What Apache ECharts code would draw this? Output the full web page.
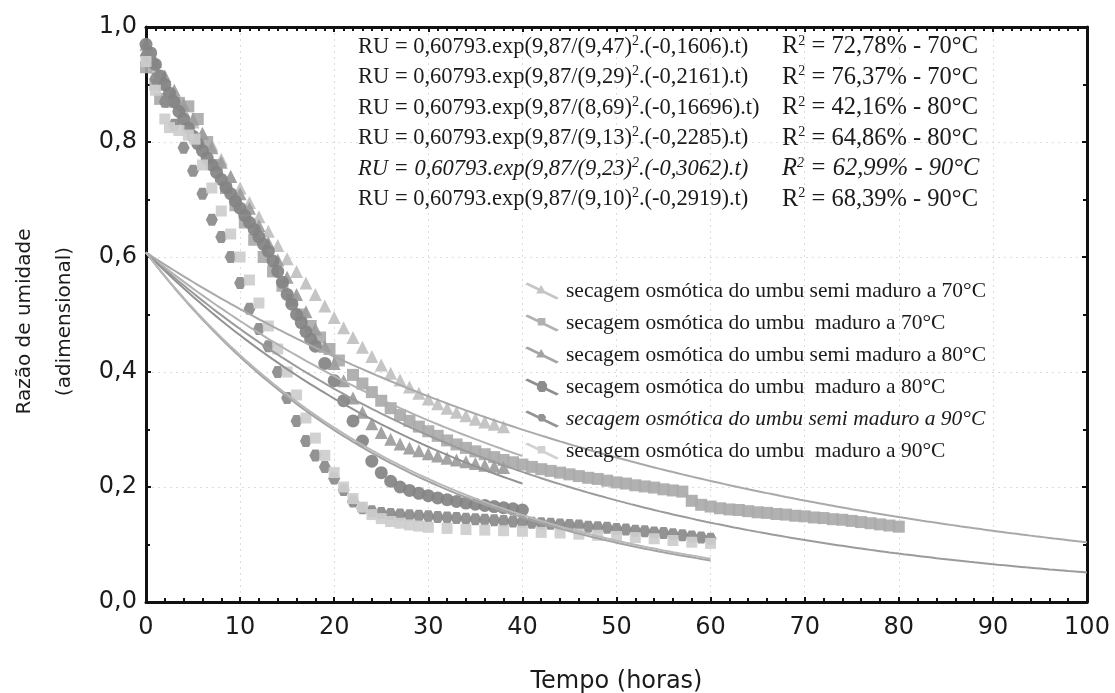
<!DOCTYPE html>
<html>
<head>
<meta charset="utf-8">
<script src="https://cdn.jsdelivr.net/npm/echarts@6/dist/echarts.min.js"></script>
<style>
  html, body { margin: 0; padding: 0; background: #ffffff; }
  #chart { width: 1115px; height: 693px; }
</style>
</head>
<body>
<div id="chart"></div>
<script>
// Moisture ratio (RU) of osmotically dehydrated umbu, measured points [hours, RU]
const semiMaduro70 = [[0,0.96],[1,0.93],[2,0.9],[3,0.875],[4,0.855],[5,0.835],[6,0.815],[7,0.795],[8,0.77],[9,0.74],[10,0.72],[11,0.695],[12,0.67],[13,0.645],[14,0.62],[15,0.597],[16,0.575],[17,0.555],[18,0.535],[19,0.515],[20,0.495],[21,0.477],[22,0.46],[23,0.443],[24,0.427],[25,0.412],[26,0.398],[27,0.386],[28,0.374],[29,0.363],[30,0.353],[31,0.345],[32,0.337],[33,0.33],[34,0.324],[35,0.318],[36,0.313],[37,0.309],[38,0.305]];
const maduro70 = [[0,0.93],[1,0.9],[1.5,0.875],[2.5,0.87],[3.5,0.868],[4.5,0.862],[5.5,0.84],[6.5,0.8],[7.5,0.76],[8.5,0.72],[9.5,0.69],[10.5,0.66],[11.5,0.63],[12.5,0.6],[13.5,0.575],[14.5,0.55],[15.5,0.525],[16.5,0.5],[17.5,0.48],[18.5,0.46],[19.5,0.44],[20.5,0.42],[22,0.395],[23,0.38],[24,0.365],[25,0.35],[26,0.337],[27,0.325],[28,0.315],[29,0.305],[30,0.297],[31,0.289],[32,0.281],[33,0.274],[34,0.268],[35,0.262],[36,0.257],[37,0.252],[38,0.247],[39,0.243],[40,0.239],[41,0.235],[42,0.231],[43,0.228],[44,0.225],[45,0.222],[46,0.219],[47,0.216],[48,0.214],[49,0.211],[50,0.208],[51,0.206],[52,0.203],[53,0.201],[54,0.199],[55,0.196],[56,0.194],[57,0.192],[58,0.176],[59,0.169],[60,0.166],[61,0.163],[62,0.161],[63,0.16],[64,0.158],[65,0.156],[66,0.155],[67,0.153],[68,0.152],[69,0.15],[70,0.149],[71,0.147],[72,0.146],[73,0.144],[74,0.143],[75,0.141],[76,0.139],[77,0.137],[78,0.135],[79,0.133],[80,0.131]];
const semiMaduro80 = [[0,0.97],[1,0.94],[2,0.915],[3,0.89],[4,0.865],[5,0.84],[6,0.815],[7,0.79],[8,0.765],[9,0.74],[10,0.71],[11,0.685],[12,0.655],[13,0.625],[14,0.595],[15,0.565],[16,0.535],[17,0.505],[18,0.475],[19,0.445],[20,0.415],[21,0.385],[22,0.355],[23,0.33],[24,0.31],[25,0.295],[26,0.283],[27,0.275],[28,0.268],[29,0.263],[30,0.258],[31,0.254],[32,0.25],[33,0.247],[34,0.244],[35,0.241],[36,0.238],[37,0.236],[38,0.234]];
const maduro80 = [[0,0.97],[0.5,0.955],[1,0.935],[1.5,0.915],[2,0.9],[2.5,0.885],[3,0.87],[3.5,0.853],[4,0.84],[4.5,0.824],[5,0.81],[5.5,0.797],[6,0.785],[6.5,0.772],[7,0.76],[7.5,0.747],[8,0.735],[8.5,0.721],[9,0.71],[9.5,0.697],[10,0.685],[10.5,0.672],[11,0.66],[11.5,0.648],[12,0.635],[12.5,0.622],[13,0.61],[13.5,0.593],[14,0.575],[14.5,0.556],[15,0.535],[15.5,0.518],[16,0.5],[16.5,0.486],[17,0.47],[17.5,0.457],[18,0.445],[19,0.415],[20,0.385],[21,0.35],[22,0.315],[23,0.28],[24,0.245],[25,0.225],[26,0.21],[27,0.2],[28,0.194],[29,0.189],[30,0.185],[31,0.181],[32,0.178],[33,0.175],[34,0.172],[35,0.17],[36,0.168],[37,0.166],[38,0.164],[39,0.162],[40,0.16]];
const semiMaduro90 = [[0,0.95],[1,0.91],[2,0.87],[3,0.83],[4,0.79],[5,0.75],[6,0.71],[7,0.665],[8,0.635],[9,0.6],[10,0.555],[11,0.51],[12,0.475],[13,0.445],[14,0.4],[15,0.355],[16,0.315],[17,0.28],[18,0.255],[19,0.235],[20,0.215],[21,0.195],[22,0.175],[23,0.163],[24,0.158],[25,0.155],[26,0.153],[27,0.152],[28,0.151],[29,0.15],[30,0.149],[31,0.148],[32,0.147],[33,0.146],[34,0.145],[35,0.144],[36,0.143],[37,0.142],[38,0.141],[39,0.14],[40,0.139],[41,0.138],[42,0.137],[43,0.136],[44,0.135],[45,0.134],[46,0.133],[47,0.131],[48,0.13],[49,0.129],[50,0.127],[51,0.126],[52,0.124],[53,0.123],[54,0.121],[55,0.12],[56,0.118],[57,0.116],[58,0.114],[59,0.112],[60,0.11]];
const maduro90 = [[0,0.94],[1,0.89],[2,0.84],[2.5,0.825],[3.5,0.82],[4.5,0.812],[5.2,0.805],[6,0.76],[7,0.72],[8,0.68],[9,0.64],[10,0.6],[11,0.56],[12,0.52],[13,0.48],[14,0.44],[15,0.4],[16,0.36],[17,0.32],[18,0.285],[19,0.255],[20,0.225],[21,0.2],[22,0.18],[23,0.165],[24,0.152],[25,0.145],[26,0.14],[27,0.137],[28,0.134],[29,0.132],[30,0.13],[32,0.128],[34,0.126],[36,0.125],[38,0.124],[40,0.123],[42,0.121],[44,0.12],[46,0.118],[48,0.116],[50,0.114],[52,0.112],[54,0.11],[56,0.107],[58,0.104],[60,0.102]];

// Legend labels, one per measured series
const seriesNames = [
  'secagem osmótica do umbu semi maduro a 70°C',
  'secagem osmótica do umbu  maduro a 70°C',
  'secagem osmótica do umbu semi maduro a 80°C',
  'secagem osmótica do umbu  maduro a 80°C',
  'secagem osmótica do umbu semi maduro a 90°C',
  'secagem osmótica do umbu  maduro a 90°C'
];
const seriesData = [semiMaduro70, maduro70, semiMaduro80, maduro80, semiMaduro90, maduro90];

// Fitted diffusion model RU = A.exp(D/(L)^2.(-k).t)
const fitA = 0.60793;
const fitD = 9.87;
const fitRadius = [9.47, 9.29, 8.69, 9.13, 9.23, 9.10];
const fitRate = [0.1606, 0.2161, 0.16696, 0.2285, 0.3062, 0.2919];
const fitR2 = [72.78, 76.37, 42.16, 64.86, 62.99, 68.39];
const fitTemp = [70, 70, 80, 80, 90, 90];
const fitEnd = [100, 100, 40, 40, 60, 60];

// Axis ticks
const xTicks = [0, 10, 20, 30, 40, 50, 60, 70, 80, 90, 100];
const yTicks = [0, 0.2, 0.4, 0.6, 0.8, 1.0];

// ---- styling ----
const markerColors = ['#c0c0c0', '#aaaaaa', '#9c9c9c', '#838383', '#8a8a8a', '#cdcdcd'];
const markerSymbols = [
  'triangle', 'rect', 'triangle', 'circle',
  'path://M5,0 L15,0 L20,9 L15,18 L5,18 L0,9 Z',
  'rect'
];
const markerSizes = [13, 12, 13, 13, 12, 11];
const curveColors = ['#a9a9a9', '#9b9b9b', '#b2b2b2', '#929292', '#a3a3a3', '#b8b8b8'];
const legendIcons = [
  'path://M0,2 L3,0 L40,18 L37,20 Z M19,3 L25,13 L13,13 Z',
  'path://M0,2 L3,0 L40,18 L37,20 Z M15,4 L24,4 L24,13 L15,13 Z',
  'path://M0,2 L3,0 L40,18 L37,20 Z M19,3 L25,13 L13,13 Z',
  'path://M0,2 L3,0 L40,18 L37,20 Z M17,3 L23,3 L26,7 L26,12 L23,16 L17,16 L14,12 L14,7 Z',
  'path://M0,2 L3,0 L40,18 L37,20 Z M17,4 L22,4 L25,8 L22,13 L17,13 L14,8 Z',
  'path://M0,2 L3,0 L40,18 L37,20 Z M15,4 L24,4 L24,13 L15,13 Z'
];

const sansFont = 'DejaVu Sans';
const serifFont = 'Liberation Serif';
const inkColor = '#1b1b1b';

const comma = s => String(s).replace('.', ',');

function fitCurve(i) {
  const pts = [];
  const coef = fitD / (fitRadius[i] * fitRadius[i]) * (-fitRate[i]);
  for (let t = 0; t <= fitEnd[i] + 1e-9; t += 0.5) {
    pts.push([t, fitA * Math.exp(coef * t)]);
  }
  return pts;
}

// ---- series ----
const series = [];
seriesData.forEach((d, i) => {
  series.push({
    name: seriesNames[i],
    type: 'scatter',
    data: d,
    symbol: markerSymbols[i],
    symbolSize: markerSizes[i],
    itemStyle: { color: markerColors[i], opacity: 0.92 },
    z: 2,
    silent: true
  });
});
fitRate.forEach((k, i) => {
  series.push({
    name: 'ajuste ' + fitTemp[i] + ' ' + i,
    type: 'line',
    data: fitCurve(i),
    showSymbol: false,
    smooth: false,
    lineStyle: { color: curveColors[i], width: 2 },
    z: 3,
    silent: true
  });
});

// ---- equation annotations ----
const eqFont = 22.5;
const eqRightFont = 24.5;
const eqLeftX = 358;
const eqRightX = 782;
const eqTop = 47;
const eqStep = 30.5;
const graphics = [];
fitRate.forEach((k, i) => {
  const italic = i === 4;
  const n = italic ? 'i' : 'n';
  const s = italic ? 'si' : 's';
  const mkRich = fs => ({
    n: { fontFamily: serifFont, fontSize: fs, lineHeight: 26, fill: inkColor },
    i: { fontFamily: serifFont, fontSize: fs, fontStyle: 'italic', lineHeight: 26, fill: inkColor },
    s: { fontFamily: serifFont, fontSize: 14, lineHeight: 14, verticalAlign: 'top', fill: inkColor },
    si: { fontFamily: serifFont, fontSize: 14, fontStyle: 'italic', lineHeight: 14, verticalAlign: 'top', fill: inkColor }
  });
  const left = '{' + n + '|RU = ' + comma(fitA) + '.exp(' + comma(fitD) + '/(' + comma(fitRadius[i].toFixed(2)) + ')}' +
               '{' + s + '|2}' + '{' + n + '|.(-' + comma(k) + ').t)}';
  const right = '{' + n + '|R}{' + s + '|2}{' + n + '| = ' + comma(fitR2[i].toFixed(2)) + '% - ' + fitTemp[i] + '°C}';
  const y = eqTop + i * eqStep;
  graphics.push({
    type: 'text', x: eqLeftX, y: y, z: 10, silent: true,
    style: { text: left, rich: mkRich(eqFont), verticalAlign: 'middle', align: 'left', fontFamily: serifFont, fontSize: eqFont }
  });
  graphics.push({
    type: 'text', x: eqRightX, y: y, z: 10, silent: true,
    style: { text: right, rich: mkRich(eqRightFont), verticalAlign: 'middle', align: 'left', fontFamily: serifFont, fontSize: eqRightFont }
  });
});

const axisLineStyle = { color: '#111111', width: 3 };
const tickStyle = { color: '#111111', width: 2 };

const option = {
  animation: false,
  backgroundColor: '#ffffff',
  grid: { left: 146, right: 28, top: 27, bottom: 91, containLabel: false, outerBoundsMode: 'none' },
  legend: {
    orient: 'vertical',
    left: 520,
    top: 274,
    itemWidth: 38,
    itemHeight: 17,
    itemGap: 8,
    selectedMode: false,
    textStyle: { fontFamily: serifFont, fontSize: 21.5, color: inkColor, lineHeight: 24 },
    data: seriesNames.map((name, i) => ({
      name: name,
      icon: legendIcons[i],
      textStyle: i === 4 ? { fontStyle: 'italic' } : {}
    }))
  },
  xAxis: [
    {
      type: 'value', position: 'bottom', min: xTicks[0], max: xTicks[xTicks.length - 1], interval: 10,
      axisLine: { show: true, onZero: false, lineStyle: axisLineStyle },
      axisTick: { show: true, inside: true, length: 5, lineStyle: tickStyle },
      minorTick: { show: true, splitNumber: 5, length: 4, lineStyle: tickStyle },
      axisLabel: { margin: 14, fontFamily: sansFont, fontSize: 24, color: inkColor },
      splitLine: { show: true, lineStyle: { color: '#dcdcdc', width: 1, type: [2, 4] } },
      name: 'Tempo (horas)', nameLocation: 'middle', nameGap: 68,
      nameTextStyle: { fontFamily: sansFont, fontSize: 24, color: inkColor }
    },
    {
      type: 'value', position: 'top', min: xTicks[0], max: xTicks[xTicks.length - 1], interval: 10,
      axisLine: { show: true, onZero: false, lineStyle: axisLineStyle },
      axisTick: { show: true, inside: true, length: 5, lineStyle: tickStyle },
      minorTick: { show: true, splitNumber: 10, length: 4, lineStyle: tickStyle },
      axisLabel: { show: false },
      splitLine: { show: false }
    }
  ],
  yAxis: [
    {
      type: 'value', position: 'left', min: yTicks[0], max: yTicks[yTicks.length - 1], interval: 0.2,
      axisLine: { show: true, onZero: false, lineStyle: axisLineStyle },
      axisTick: { show: true, inside: true, length: 5, lineStyle: tickStyle },
      minorTick: { show: true, splitNumber: 2, length: 4, lineStyle: tickStyle },
      axisLabel: { margin: 9, fontFamily: sansFont, fontSize: 24, color: inkColor,
                   formatter: v => v.toFixed(1).replace('.', ',') },
      splitLine: { show: true, lineStyle: { color: '#dcdcdc', width: 1, type: [2, 4] } },
      name: 'Razão de umidade\n(adimensional)', nameLocation: 'middle', nameGap: 61,
      nameTextStyle: { fontFamily: sansFont, fontSize: 20, color: inkColor, lineHeight: 40, padding: [0, 14, 0, 0] }
    },
    {
      type: 'value', position: 'right', min: yTicks[0], max: yTicks[yTicks.length - 1], interval: 0.2,
      axisLine: { show: true, onZero: false, lineStyle: axisLineStyle },
      axisTick: { show: true, inside: true, length: 5, lineStyle: tickStyle },
      minorTick: { show: true, splitNumber: 2, length: 4, lineStyle: tickStyle },
      axisLabel: { show: false },
      splitLine: { show: false }
    }
  ],
  graphic: graphics,
  series: series
};

const chart = echarts.init(document.getElementById('chart'), null, { renderer: 'canvas' });
chart.setOption(option);
</script>
</body>
</html>
